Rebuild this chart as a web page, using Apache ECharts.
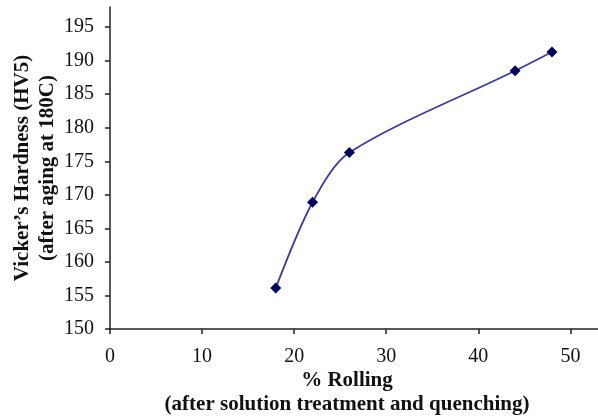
<!DOCTYPE html>
<html>
<head>
<meta charset="utf-8">
<script src="https://cdn.jsdelivr.net/npm/echarts@6/dist/echarts.min.js"></script>
<style>
  html, body { margin: 0; padding: 0; background: #fff; }
  #main { width: 598px; height: 417px; }
</style>
</head>
<body>
<div id="main"></div>
<script>
// % rolling and hardness
var rolling = [18, 22, 26, 44, 48];
var hardness = [156.1, 168.9, 176.3, 188.5, 191.3];
var xTicks = [0, 10, 20, 30, 40, 50];
var yTicks = [150, 155, 160, 165, 170, 175, 180, 185, 190, 195];

var points = rolling.map(function (r, i) { return [r, hardness[i]]; });

var myChart = echarts.init(document.getElementById('main'));

var font = 'Liberation Serif, Times New Roman, serif';

var option = {
    animation: false,
    grid: { left: 110, right: 0, top: 7, bottom: 88, outerBoundsMode: 'none', containLabel: false },
    xAxis: {
        type: 'value',
        min: 0,
        max: 53,
        name: '% Rolling\n(after solution treatment and quenching)',
        nameLocation: 'middle',
        nameGap: 40,
        nameMoveOverlap: false,
        nameTextStyle: { fontFamily: font, fontWeight: 'bold', fontSize: 21, color: '#111', lineHeight: 24, padding: [0, 14, 0, 0] },
        axisLine: { lineStyle: { color: '#222', width: 1.5 } },
        axisTick: { inside: false, length: 5, lineStyle: { color: '#222', width: 1.5 }, customValues: xTicks },
        axisLabel: { customValues: xTicks, fontFamily: font, fontSize: 20, color: '#111', margin: 18 },
        splitLine: { show: false }
    },
    yAxis: {
        type: 'value',
        min: 150,
        max: 198,
        name: 'Vicker\u2019s Hardness (HV5)\n(after aging at 180C)',
        nameLocation: 'middle',
        nameGap: 50,
        nameMoveOverlap: false,
        nameTextStyle: { fontFamily: font, fontWeight: 'bold', fontSize: 21, color: '#111', lineHeight: 25 },
        axisLine: { show: true, lineStyle: { color: '#222', width: 1.5 } },
        axisTick: { show: true, length: 5, lineStyle: { color: '#222', width: 1.5 }, customValues: yTicks },
        axisLabel: { customValues: yTicks, fontFamily: font, fontSize: 20, color: '#111', margin: 16 },
        splitLine: { show: false }
    },
    series: [
        {
            type: 'line',
            data: points,
            smooth: 0.3,
            symbol: 'diamond',
            symbolSize: 11,
            itemStyle: { color: '#000060' },
            lineStyle: { color: '#3c3c9c', width: 1.8 }
        }
    ]
};

myChart.setOption(option);
</script>
</body>
</html>
